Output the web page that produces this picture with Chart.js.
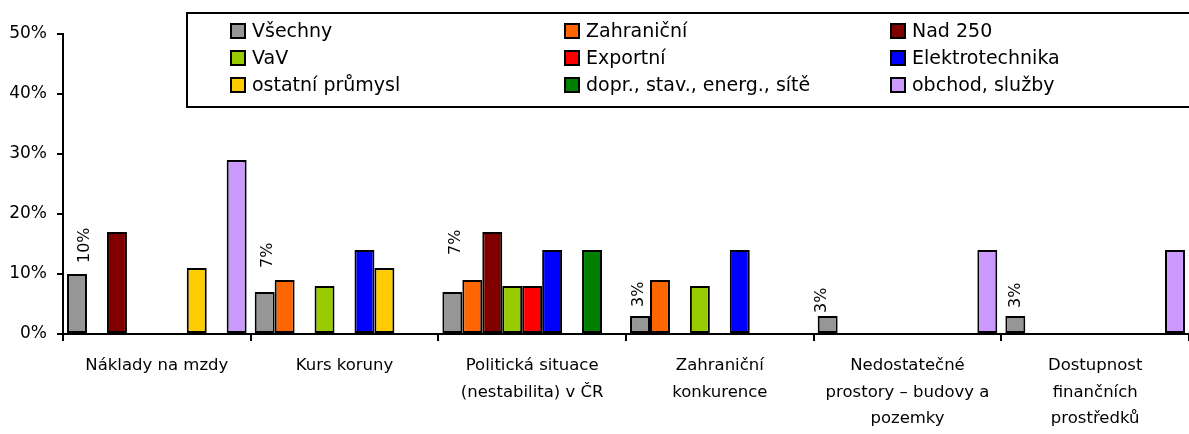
<!DOCTYPE html>
<html>
<head>
<meta charset="utf-8">
<script src="https://cdn.jsdelivr.net/npm/chart.js@4"></script>
<style>
html,body{margin:0;padding:0;background:#fff;}
#wrap{width:1189px;height:434px;position:relative;}
</style>
</head>
<body>
<div id="wrap"><canvas id="c" width="1189" height="434"></canvas></div>
<script>
const categories = [
  "Náklady na mzdy",
  "Kurs koruny",
  ["Politická situace", "(nestabilita) v ČR"],
  ["Zahraniční", "konkurence"],
  ["Nedostatečné", "prostory – budovy a", "pozemky"],
  ["Dostupnost", "finančních", "prostředků"]
];
const seriesNames = ["Všechny","Zahraniční","Nad 250","VaV","Exportní","Elektrotechnika","ostatní průmysl","dopr., stav., energ., sítě","obchod, služby"];
const seriesColors = ["#969696","#FF6600","#800000","#99CC00","#FF0000","#0000FF","#FFCC00","#008000","#CC99FF"];
const vsechny       = [10, 7, 7, 3, 3, 3];
const zahranicni    = [null, 9, 9, 9, null, null];
const nad250        = [17, null, 17, null, null, null];
const vav           = [null, 8, 8, 8, null, null];
const exportni      = [null, null, 8, null, null, null];
const elektro       = [null, 14, 14, 14, null, null];
const ostatni       = [11, 11, null, null, null, null];
const dopr          = [null, null, 14, null, null, null];
const obchod        = [29, null, null, null, 14, 14];
const yTicks = [0, 10, 20, 30, 40, 50];

const seriesData = [vsechny, zahranicni, nad250, vav, exportni, elektro, ostatni, dopr, obchod];
const FONT = "'DejaVu Sans', sans-serif";

// manual nudges of the rotated data labels (as placed in the original)
const labelGap = [11, 24, 37, 9, 3, 8];
const labelDx  = [8, 3, 3, -1, -6, 0];

const datasets = seriesData.map((d, i) => ({
  label: seriesNames[i],
  data: d,
  backgroundColor: seriesColors[i],
  borderColor: "#000",
  borderWidth: 2,
  borderSkipped: false,
  barPercentage: 1.0,
  categoryPercentage: 0.957
}));

const labelPlugin = {
  id: "vlabels",
  afterDatasetsDraw(chart) {
    const ctx = chart.ctx;
    const meta = chart.getDatasetMeta(0);
    ctx.save();
    ctx.font = "16px " + FONT;
    ctx.fillStyle = "#000";
    meta.data.forEach((bar, i) => {
      const v = vsechny[i];
      if (v == null) return;
      ctx.save();
      ctx.translate(bar.x + labelDx[i], bar.y - labelGap[i]);
      ctx.rotate(-Math.PI / 2);
      ctx.textAlign = "left";
      ctx.textBaseline = "middle";
      ctx.fillText(v + "%", 0, 0);
      ctx.restore();
    });
    ctx.restore();
  }
};

const legendPlugin = {
  id: "boxlegend",
  afterDraw(chart) {
    const ctx = chart.ctx;
    ctx.save();
    const bx = 187, by = 13, bw = 1010, bh = 94;
    ctx.fillStyle = "#fff";
    ctx.fillRect(bx, by, bw, bh);
    ctx.strokeStyle = "#000";
    ctx.lineWidth = 2;
    ctx.strokeRect(bx, by, bw, bh);
    const colX = [231, 565, 891];
    const rowY = [31, 58, 85];
    ctx.font = "19px " + FONT;
    ctx.textBaseline = "middle";
    ctx.textAlign = "left";
    chart.data.datasets.forEach((ds, i) => {
      const c = i % 3, r = Math.floor(i / 3);
      const x = colX[c], y = rowY[r];
      ctx.fillStyle = ds.backgroundColor;
      ctx.fillRect(x, y - 7, 14, 14);
      ctx.lineWidth = 2;
      ctx.strokeStyle = "#000";
      ctx.strokeRect(x, y - 7, 14, 14);
      ctx.fillStyle = "#000";
      ctx.fillText(ds.label, x + 21, y + 1);
    });
    ctx.restore();
  }
};

new Chart(document.getElementById("c"), {
  type: "bar",
  data: { labels: categories, datasets },
  options: {
    responsive: false,
    animation: false,
    devicePixelRatio: 1,
    layout: { padding: { top: 34, right: 0, left: 0, bottom: 0 } },
    plugins: { legend: { display: false }, tooltip: { enabled: false } },
    scales: {
      x: {
        grid: { display: true, offset: true, drawOnChartArea: false, drawTicks: true, tickLength: 7, color: "#000", lineWidth: 2 },
        border: { display: true, color: "#000", width: 2 },
        ticks: { color: "#000", font: { family: FONT, size: 16.5, lineHeight: 1.6 }, maxRotation: 0, autoSkip: false, padding: 12 },
        afterFit(s) { s.height = 100; }
      },
      y: {
        min: 0, max: 50,
        afterBuildTicks(s) { s.ticks = yTicks.map(v => ({ value: v })); },
        grid: { display: true, drawOnChartArea: false, drawTicks: true, tickLength: 6, color: "#000", lineWidth: 2 },
        border: { display: true, color: "#000", width: 2 },
        ticks: { color: "#000", font: { family: FONT, size: 17 }, padding: 10, callback: v => v + "%" },
        afterFit(s) { s.width = 63; }
      }
    }
  },
  plugins: [labelPlugin, legendPlugin]
});
</script>
</body>
</html>
